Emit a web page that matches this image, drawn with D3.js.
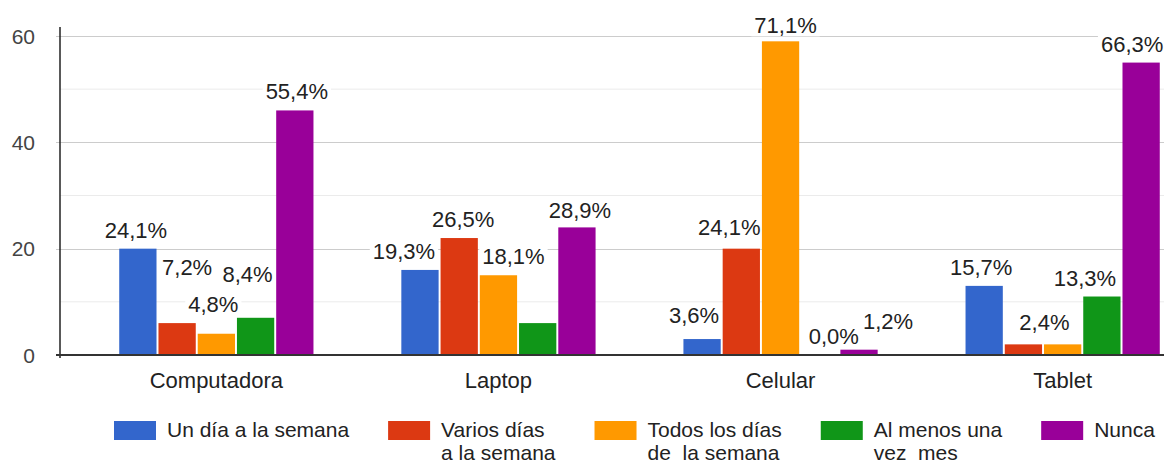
<!DOCTYPE html>
<html>
<head>
<meta charset="utf-8">
<script src="https://cdn.jsdelivr.net/npm/d3@7/dist/d3.min.js"></script>
<style>
  html, body { margin: 0; padding: 0; background: #fff; }
  svg { display: block; font-family: "Liberation Sans", Arial, sans-serif; }
</style>
</head>
<body>
<svg id="chart" width="1164" height="464"></svg>
<script>
// ---------- data ----------
const categories = ["Computadora", "Laptop", "Celular", "Tablet"];
const seriesNames = ["Un día a la semana", "Varios días a la semana", "Todos los días de la semana", "Al menos una vez mes", "Nunca"];
const legendLines = [["Un día a la semana"], ["Varios días", "a la semana"], ["Todos los días", "de  la semana"], ["Al menos una", "vez  mes"], ["Nunca"]];
const unDia    = [20, 16, 3, 13];
const varios   = [6, 22, 20, 2];
const todos    = [4, 15, 59, 2];
const alMenos  = [7, 6, 0, 11];
const nunca    = [46, 24, 1, 55];
const pctUnDia   = ["24,1%", "19,3%", "3,6%", "15,7%"];
const pctVarios  = ["7,2%", "26,5%", "24,1%", "2,4%"];
const pctTodos   = ["4,8%", "18,1%", "71,1%", "2,4%"];
const pctAlMenos = ["8,4%", "7,2%", "0,0%", "13,3%"];
const pctNunca   = ["55,4%", "28,9%", "1,2%", "66,3%"];
const yTicks = [0, 20, 40, 60];
const yMinorTicks = [10, 30, 50];

// ---------- layout (annotation collision nudges, null = hidden) ----------
const labelNudge = [
  [[-2, 0], [-16, 0], [-8, -5], [-3, 0]],
  [[10, -37], [4, 0], [-12, -3], [21, -3]],
  [[-3, -11], [15, 0], [5, 3], null],
  [[-8, -25], null, [14, 0], [-17, 0]],
  [[2, 0], [3, 2], [29, -10], [-9, 0]]
];
const colors = ["#3366cc", "#dc3912", "#ff9900", "#109618", "#990099"];

const values = [unDia, varios, todos, alMenos, nunca];
const pcts = [pctUnDia, pctVarios, pctTodos, pctAlMenos, pctNunca];

const svg = d3.select("#chart");
svg.append("rect").attr("width", 1164).attr("height", 464).attr("fill", "#fff");

const plotLeft = 60, plotRight = 1164;
const y = d3.scaleLinear().domain([0, 60]).range([355, 36]);
const x0 = d3.scaleBand().domain(categories).range([75.3, 1203.7]).paddingInner(0).paddingOuter(0);
const x1 = d3.scaleBand().domain(d3.range(seriesNames.length)).range([-98.1, 98.1]).paddingInner(0.05).paddingOuter(0.025);

// gridlines
const g = svg.append("g");
g.selectAll("line.minor").data(yMinorTicks).join("line")
  .attr("x1", plotLeft).attr("x2", plotRight)
  .attr("y1", d => y(d)).attr("y2", d => y(d))
  .attr("stroke", "#ebebeb").attr("stroke-width", 1);
g.selectAll("line.major").data(yTicks.filter(d => d !== 0)).join("line")
  .attr("x1", plotLeft - 4).attr("x2", plotRight)
  .attr("y1", d => Math.round(y(d)) + 0.5).attr("y2", d => Math.round(y(d)) + 0.5)
  .attr("stroke", "#cccccc").attr("stroke-width", 1);

// layer for annotation halos (above gridlines, below bars)
const haloLayer = svg.append("g");

// y tick labels
svg.append("g").selectAll("text").data(yTicks).join("text")
  .attr("x", 35).attr("y", d => y(d))
  .attr("dy", "0.36em")
  .attr("text-anchor", "end")
  .attr("font-size", 21).attr("fill", "#444")
  .text(d => d);

// bars
const bars = svg.append("g");
categories.forEach((cat, ci) => {
  values.forEach((arr, si) => {
    const v = arr[ci];
    if (v <= 0) return;
    bars.append("rect")
      .attr("x", x0(cat) + x0.bandwidth() / 2 + x1(si))
      .attr("width", x1.bandwidth())
      .attr("y", y(v))
      .attr("height", y(0) - y(v))
      .attr("fill", colors[si]);
  });
});

// axes lines
svg.append("line").attr("x1", plotLeft).attr("x2", plotLeft).attr("y1", 27).attr("y2", 358)
  .attr("stroke", "#222").attr("stroke-width", 1.5);
svg.append("line").attr("x1", plotLeft - 4).attr("x2", plotRight).attr("y1", y(0)).attr("y2", y(0))
  .attr("stroke", "#333").attr("stroke-width", 2);

// x labels
svg.append("g").selectAll("text").data(categories).join("text")
  .attr("x", d => x0(d) + x0.bandwidth() / 2)
  .attr("y", 388)
  .attr("text-anchor", "middle")
  .attr("font-size", 22).attr("fill", "#222")
  .text(d => d);

// annotations
const ann = svg.append("g");
categories.forEach((cat, ci) => {
  values.forEach((arr, si) => {
    const nudge = labelNudge[si][ci];
    if (!nudge) return;
    const cx = x0(cat) + x0.bandwidth() / 2 + x1(si) + x1.bandwidth() / 2 + nudge[0];
    const by = y(arr[ci]) - 11 + nudge[1];
    const t = ann.append("text")
      .attr("x", cx).attr("y", by)
      .attr("text-anchor", "middle")
      .attr("font-size", 22).attr("fill", "#222")
      .text(pcts[si][ci]);
    const bb = t.node().getBBox();
    haloLayer.append("rect").attr("fill", "#fff")
      .attr("x", bb.x - 3).attr("y", bb.y + 2).attr("width", bb.width + 6).attr("height", bb.height - 4);
  });
});

// legend
const legend = svg.append("g");
let lx = 114;
const gapAfter = 39;
legendLines.forEach((lines, i) => {
  const item = legend.append("g");
  item.append("rect").attr("x", lx).attr("y", 421).attr("width", 42).attr("height", 19).attr("fill", colors[i]);
  let maxW = 0;
  lines.forEach((ln, li) => {
    const t = item.append("text")
      .attr("x", lx + 53).attr("y", 437 + li * 22.5)
      .attr("font-size", 21).attr("fill", "#222")
      .style("white-space", "pre")
      .text(ln);
    maxW = Math.max(maxW, t.node().getComputedTextLength());
  });
  lx = lx + 53 + maxW + gapAfter;
});
</script>
</body>
</html>
